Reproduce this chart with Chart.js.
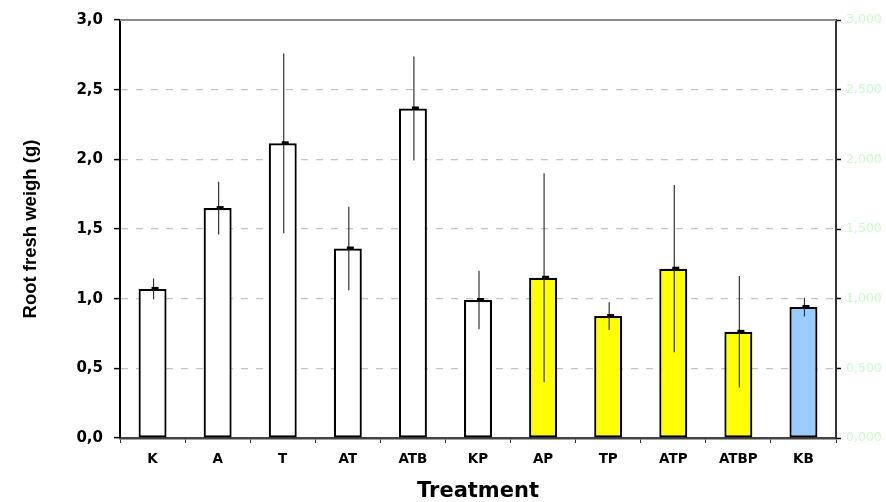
<!DOCTYPE html>
<html>
<head>
<meta charset="utf-8">
<script src="https://cdn.jsdelivr.net/npm/chart.js@4"></script>
<style>
html,body{margin:0;padding:0;background:#fff;}
canvas{display:block;}
</style>
</head>
<body>
<canvas id="c" width="886" height="502"></canvas>
<script>
const categories = ['K','A','T','AT','ATB','KP','AP','TP','ATP','ATBP','KB'];
const means = [1.07, 1.65, 2.115, 1.36, 2.365, 0.99, 1.15, 0.875, 1.215, 0.762, 0.94];
const errors = [0.075, 0.19, 0.645, 0.30, 0.373, 0.21, 0.75, 0.10, 0.60, 0.40, 0.067];
const yTicks = [0, 0.5, 1.0, 1.5, 2.0, 2.5, 3.0];

const barColors = ['#ffffff','#ffffff','#ffffff','#ffffff','#ffffff','#ffffff',
                   '#ffff00','#ffff00','#ffff00','#ffff00','#99ccff'];

const errorBarPlugin = {
  id: 'errorBars',
  afterDatasetsDraw(chart) {
    const ctx = chart.ctx;
    const meta = chart.getDatasetMeta(0);
    const y = chart.scales.y;
    ctx.save();
    meta.data.forEach((bar, i) => {
      const x = bar.x + 1;
      const top = y.getPixelForValue(means[i] + errors[i]);
      const bot = y.getPixelForValue(means[i] - errors[i]);
      ctx.strokeStyle = '#333';
      ctx.lineWidth = 1.2;
      ctx.beginPath();
      ctx.moveTo(x, top);
      ctx.lineTo(x, bot);
      ctx.stroke();
      const my = y.getPixelForValue(means[i]);
      ctx.fillStyle = '#000';
      ctx.fillRect(x - 2, my - 2, 7, 3);
    });
    ctx.restore();
  }
};

const topLinePlugin = {
  id: 'topLine',
  beforeDatasetsDraw(chart) {
    const a = chart.chartArea;
    const ctx = chart.ctx;
    ctx.save();
    ctx.strokeStyle = '#8a8a8a';
    ctx.lineWidth = 2;
    ctx.beginPath();
    ctx.moveTo(a.left, a.top);
    ctx.lineTo(a.right, a.top);
    ctx.stroke();
    ctx.restore();
  }
};

new Chart(document.getElementById('c'), {
  type: 'bar',
  data: {
    labels: categories,
    datasets: [{
      data: means,
      backgroundColor: barColors,
      borderColor: '#000',
      borderWidth: 2.2,
      borderSkipped: false,
      barPercentage: 0.43,
      categoryPercentage: 1.0
    }]
  },
  options: {
    responsive: false,
    animation: false,
    layout: { padding: { top: 19, left: 0, right: 0, bottom: 0 } },
    plugins: { legend: { display: false }, tooltip: { enabled: false } },
    scales: {
      x: {
        offset: true,
        afterFit(s) { s.height = 64; },
        grid: { offset: true, drawOnChartArea: false, drawTicks: true, tickLength: 5, tickColor: '#333', tickWidth: 1 },
        border: { color: '#444', width: 2.5 },
        ticks: { color: '#000', font: { family: 'DejaVu Sans', weight: 'bold', size: 13.5 }, padding: 8, maxRotation: 0, autoSkip: false },
        title: { display: true, text: 'Treatment', color: '#000', font: { family: 'DejaVu Sans', weight: 'bold', size: 21, lineHeight: 1 }, padding: { top: 8, bottom: 0 } }
      },
      y: {
        position: 'left',
        min: 0, max: 3,
        afterFit(s) { s.width = 120; },
        afterBuildTicks(s) { s.ticks = yTicks.map(v => ({ value: v })); },
        grid: { color: (c) => (c.tick && (c.tick.value === 0 || c.tick.value === 3)) ? 'rgba(0,0,0,0)' : '#c4c4c4', lineWidth: 1.2, tickLength: 6, tickColor: '#000', tickWidth: 1.5, tickBorderDash: [] },
        border: { color: '#000', width: 2, dash: [7, 8] },
        ticks: { color: '#000', font: { family: 'DejaVu Sans', weight: 'bold', size: 15 }, padding: 11, callback: (v) => Number(v).toFixed(1).replace('.', ',') },
        title: { display: true, text: 'Root fresh weigh (g)', color: '#000', font: { family: 'Liberation Sans', weight: 'bold', size: 18.5 }, padding: { top: 20, bottom: 0 } }
      },
      y2: {
        position: 'right',
        min: 0, max: 3,
        afterFit(s) { s.width = 50; },
        afterBuildTicks(s) { s.ticks = yTicks.map(v => ({ value: v })); },
        grid: { drawOnChartArea: false, tickLength: 5, tickColor: '#000', tickWidth: 1.5 },
        border: { color: '#333', width: 2 },
        ticks: { color: '#c8fcc8', font: { family: 'DejaVu Sans', size: 12.5 }, padding: 5, callback: (v) => Number(v).toFixed(3).replace('.', ',') }
      }
    }
  },
  plugins: [topLinePlugin, errorBarPlugin]
});
</script>
</body>
</html>
